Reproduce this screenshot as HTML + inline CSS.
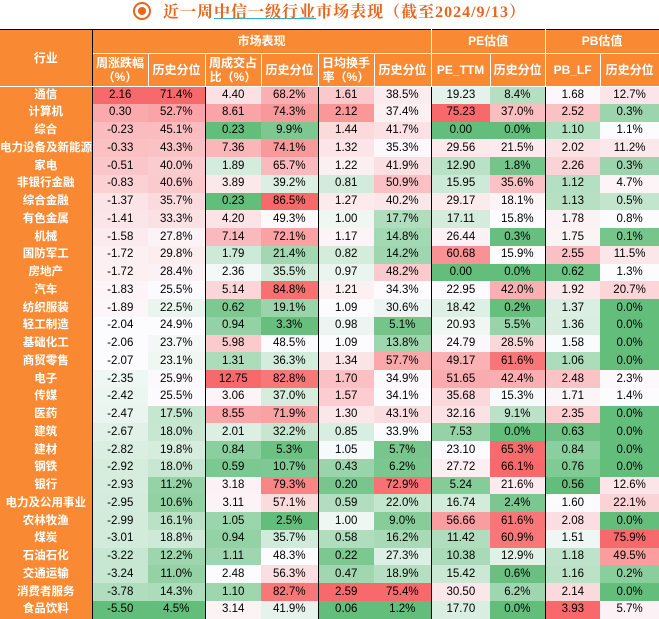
<!DOCTYPE html><html><head><meta charset="utf-8"><style>
body{margin:0;width:659px;height:619px;background:#fff;font-family:"Liberation Sans","Noto Sans CJK SC",sans-serif;overflow:hidden;position:relative}
#title{position:absolute;top:0;left:0;width:659px;height:29px;text-align:center;line-height:26px;font-family:"Liberation Serif","Noto Serif CJK SC",serif;font-weight:bold;font-size:16px;color:#e8651e;letter-spacing:1px}
#title .c{display:inline-block;width:14px;height:14px;border:2px solid #e8651e;border-radius:50%;position:relative;vertical-align:-3px;margin-right:12px}
#title .c:after{content:"";position:absolute;left:3px;top:3px;width:8px;height:8px;border-radius:50%;background:#e8651e}
#title u{text-decoration-color:#2bb3c8}
table{position:absolute;top:29px;left:0;border-collapse:collapse;width:659px;height:590px;table-layout:fixed}
td,th{padding:0;text-align:center;font-size:11.5px;color:#000;white-space:nowrap;overflow:hidden}
th{background:#f98a33;color:#fff;font-weight:bold;font-size:12px;border-right:1px solid #fff;border-bottom:1px solid #fff;line-height:14px}
td{line-height:15px}
td.n{background:#f98a33;color:#fff;font-weight:bold;font-size:11.5px}
.bl{border-left:1.5px solid #000}
</style></head><body>
<div id="title"><span class="c"></span>近一周<u>中信一级行业</u>市场表现（截至2024/9/13）</div>
<table id="t">
<colgroup><col style="width:92px"><col style="width:56px"><col style="width:57px"><col style="width:56px"><col style="width:57px"><col style="width:56px"><col style="width:57px"><col style="width:59px"><col style="width:55px"><col style="width:55px"><col style="width:59px"></colgroup>
<tr style="height:23px"><th rowspan="2" class="" style="border-top:1.5px solid #000;border-right:1.5px solid #000">行业</th><th colspan="6" style="border-top:1.5px solid #000">市场表现</th><th colspan="2" class="bl" style="border-top:1.5px solid #000">PE估值</th><th colspan="2" class="bl" style="border-top:1.5px solid #000">PB估值</th></tr>
<tr style="height:32px"><th>周涨跌幅<br>（%）</th><th>历史分位</th><th class="bl">周成交占<br>比（%）</th><th>历史分位</th><th class="bl">日均换手<br>率（%）</th><th>历史分位</th><th class="bl">PE_TTM</th><th>历史分位</th><th class="bl">PB_LF</th><th>历史分位</th></tr>
</table>
<script>
var D=`通信 2.16 71.4 4.40 68.2 1.61 38.5 19.23 8.4 1.68 12.7
计算机 0.30 52.7 8.61 74.3 2.12 37.4 75.23 37.0 2.52 0.3
综合 -0.23 45.1 0.23 9.9 1.44 41.7 0.00 0.0 1.10 1.1
电力设备及新能源 -0.33 43.3 7.36 74.1 1.32 35.3 29.56 21.5 2.02 11.2
家电 -0.51 40.0 1.89 65.7 1.22 41.9 12.90 1.8 2.26 0.3
非银行金融 -0.83 40.6 3.89 39.2 0.81 50.9 15.95 35.6 1.12 4.7
综合金融 -1.37 35.7 0.23 86.5 1.27 40.2 29.17 18.1 1.13 0.5
有色金属 -1.41 33.3 4.20 49.3 1.00 17.7 17.11 15.8 1.78 0.8
机械 -1.58 27.8 7.14 72.1 1.17 14.8 26.44 0.3 1.75 0.1
国防军工 -1.72 29.8 1.79 21.4 0.82 14.2 60.68 15.9 2.55 11.5
房地产 -1.72 28.4 2.36 35.5 0.97 48.2 0.00 0.0 0.62 1.3
汽车 -1.83 25.5 5.14 84.8 1.21 34.3 22.95 42.0 1.92 20.7
纺织服装 -1.89 22.5 0.62 19.1 1.09 30.6 18.42 0.2 1.37 0.0
轻工制造 -2.04 24.9 0.94 3.3 0.98 5.1 20.93 5.5 1.36 0.0
基础化工 -2.06 23.7 5.98 48.5 1.09 13.8 24.79 28.5 1.58 0.0
商贸零售 -2.07 23.1 1.31 36.3 1.34 57.7 49.17 61.6 1.06 0.0
电子 -2.35 25.9 12.75 82.8 1.70 34.9 51.65 42.4 2.48 2.3
传媒 -2.42 25.5 3.06 37.0 1.57 34.1 35.68 15.3 1.71 1.4
医药 -2.47 17.5 8.55 71.9 1.30 43.1 32.16 9.1 2.35 0.0
建筑 -2.67 18.0 2.01 32.2 0.85 33.9 7.53 0.0 0.63 0.0
建材 -2.82 19.8 0.84 5.3 1.05 5.7 23.10 65.3 0.84 0.0
钢铁 -2.92 18.0 0.59 10.7 0.43 6.2 27.72 66.1 0.76 0.0
银行 -2.93 11.2 3.18 79.3 0.20 72.9 5.24 21.6 0.56 12.6
电力及公用事业 -2.95 10.6 3.11 57.1 0.59 22.0 16.74 2.4 1.60 22.1
农林牧渔 -2.99 16.1 1.05 2.5 1.00 9.0 56.66 61.6 2.08 0.0
煤炭 -3.01 18.8 0.94 35.7 0.58 16.2 11.42 60.9 1.51 75.9
石油石化 -3.22 12.2 1.11 48.3 0.22 27.3 10.38 12.9 1.18 49.5
交通运输 -3.24 11.0 2.48 56.3 0.47 18.9 15.42 0.6 1.16 0.2
消费者服务 -3.78 14.3 1.10 82.7 2.59 75.4 30.50 6.2 2.14 0.0
食品饮料 -5.50 4.5 3.14 41.9 0.06 1.2 17.70 0.0 3.93 5.7`.split("\n").map(r=>r.split(" "));
var G=[99,190,123],W=[252,252,255],R=[248,105,107];
function mix(a,b,t){return "rgb("+a.map((v,i)=>Math.round(v+(b[i]-v)*t)).join(",")+")"}
var cols=[];
for(var c=1;c<11;c++){var v=D.map(r=>+r[c]).sort((a,b)=>a-b);var n=v.length;var mid=(v[15]);cols[c]={mn:v[0],mx:v[n-1],md:mid};}
var t=document.getElementById("t");
D.forEach(r=>{var tr=document.createElement("tr");tr.style.height="17.26px";var h="<td class='n' style='border-right:1.5px solid #000'>"+r[0]+"</td>";
for(var c=1;c<11;c++){var x=+r[c],s=cols[c],col;
if(x<=s.md)col=mix(G,W,(x-s.mn)/((s.md-s.mn)||1));else col=mix(W,R,(x-s.md)/((s.mx-s.md)||1));
var txt=(c%2==0)?r[c]+"%":r[c];var bl=(c==3||c==5||c==7||c==9)?" class='bl'":"";
h+="<td"+bl+" style='background:"+col+"'>"+txt+"</td>";}
tr.innerHTML=h;t.appendChild(tr);});
</script>
</body></html>
